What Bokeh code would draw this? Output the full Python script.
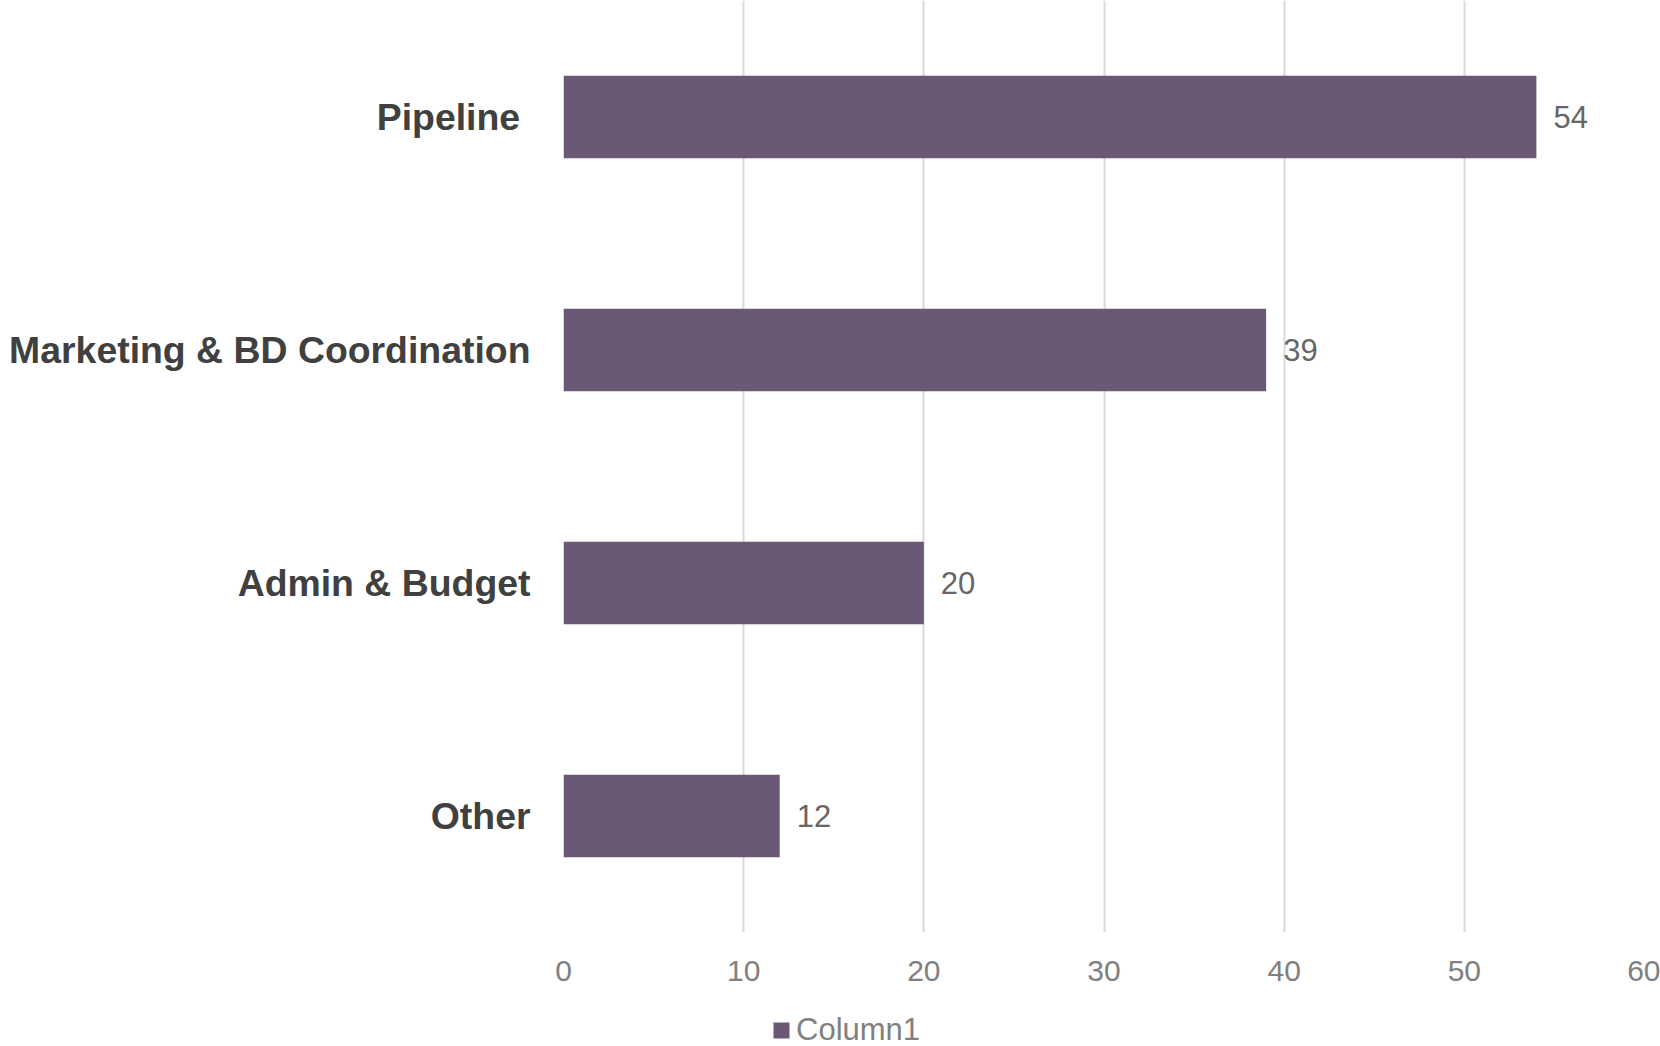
from bokeh.plotting import figure
from bokeh.layouts import column
from bokeh.models import FactorRange, Range1d, FixedTicker, ColumnDataSource, Legend, LegendItem, LabelSet
from bokeh.core.properties import value
from bokeh.embed import file_html
from bokeh.resources import INLINE

categories = ["Pipeline ", "Marketing & BD Coordination", "Admin & Budget", "Other"]
values = [54, 39, 20, 12]
x_ticks = [0, 10, 20, 30, 40, 50, 60]
series_name = "Column1"

BAR = "#6B5875"
FONT = "Liberation Sans"

src = ColumnDataSource(data=dict(cat=categories, val=values, lab=[str(v) for v in values]))

p = figure(width=1660, height=1000, output_backend="svg", toolbar_location=None,
           y_range=FactorRange(factors=list(reversed(categories)), range_padding=0),
           x_range=Range1d(0, 60),
           min_border_left=563, min_border_right=16, min_border_top=0, min_border_bottom=68)
p.outline_line_color = None
p.background_fill_color = "white"
p.border_fill_color = "white"

r = p.hbar(y="cat", right="val", left=0, height=0.355, source=src, color=BAR, line_color=None)

labels = LabelSet(x="val", y="cat", text="lab", source=src, x_offset=17, y_offset=0,
                  text_font=value(FONT), text_font_size="31px", text_color="#666666",
                  text_baseline="middle", text_align="left")
p.add_layout(labels)

# x axis
p.xaxis.ticker = FixedTicker(ticks=x_ticks)
p.xaxis.axis_line_color = None
p.xaxis.major_tick_line_color = None
p.xaxis.minor_tick_line_color = None
p.xaxis.major_label_text_font = FONT
p.xaxis.major_label_text_font_size = "30px"
p.xaxis.major_label_text_color = "#808080"
p.xaxis.major_label_standoff = 22

# y axis
p.yaxis.axis_line_color = None
p.yaxis.major_tick_line_color = None
p.yaxis.minor_tick_line_color = None
p.yaxis.major_label_text_font = FONT
p.yaxis.major_label_text_font_size = "37.4px"
p.yaxis.major_label_text_font_style = "bold"
p.yaxis.major_label_text_color = "#404040"
p.yaxis.major_label_standoff = 27

p.ygrid.grid_line_color = None
p.xgrid.grid_line_color = "#D9D9D9"
p.xgrid.grid_line_width = 2

# legend strip (frame is aligned with the main plot's frame by the column layout)
lg = figure(width=1660, height=46, output_backend="svg", toolbar_location=None,
            x_range=Range1d(0, 1), y_range=Range1d(0, 1),
            min_border_left=0, min_border_right=0, min_border_top=0, min_border_bottom=0)
lg.axis.visible = False
lg.grid.visible = False
lg.outline_line_color = None
lg.border_fill_color = "white"
# zero-width proxy bar: draws nothing, only supplies the legend swatch
proxy = lg.hbar(y=[0.5], left=[0], right=[0], height=0.5, color=BAR, line_color=None)
legend = Legend(items=[LegendItem(label=series_name, renderers=[proxy])],
                orientation="horizontal", location=(208, -2),
                label_text_font=FONT, label_text_font_size="31px", label_text_color="#808080",
                glyph_width=20, glyph_height=20, label_standoff=5,
                border_line_color=None, background_fill_alpha=0,
                margin=0, padding=0, spacing=0)
lg.add_layout(legend)

layout = column(p, lg, spacing=0)
open("out.html", "w").write(file_html(layout, INLINE))
